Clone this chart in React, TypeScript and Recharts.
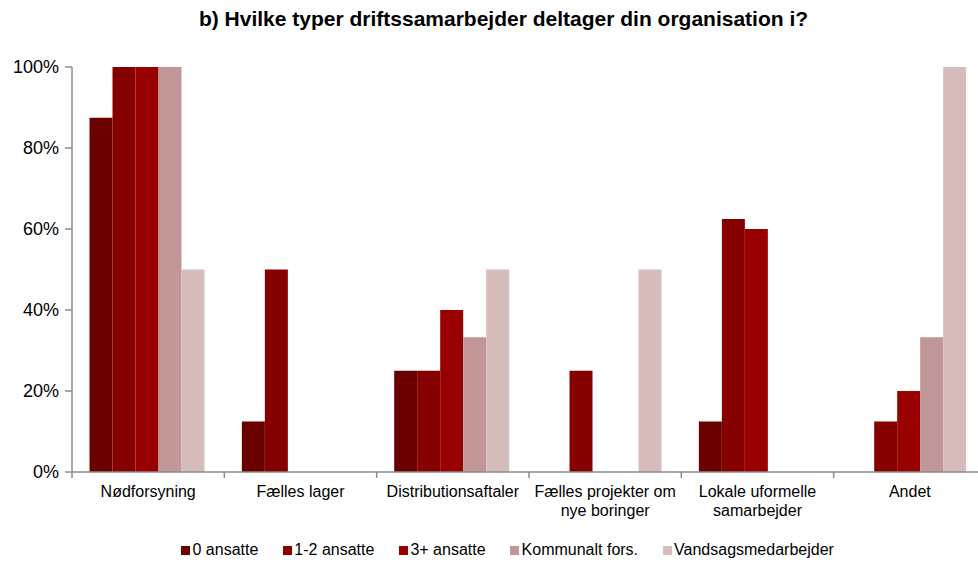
import React from 'react';
import { BarChart, Bar, XAxis, YAxis, Text } from 'recharts';

const categories = [
  'Nødforsyning',
  'Fælles lager',
  'Distributionsaftaler',
  'Fælles projekter om nye boringer',
  'Lokale uformelle samarbejder',
  'Andet',
];
const ansatte0 = [87.5, 12.5, 25, 0, 12.5, 0];
const ansatte12 = [100, 50, 25, 25, 62.5, 12.5];
const ansatte3 = [100, 0, 40, 0, 60, 20];
const kommunalt = [100, 0, 33.3, 0, 0, 33.3];
const vandsags = [50, 0, 50, 50, 0, 100];
const yTicks = [0, 20, 40, 60, 80, 100];

const series = [
  { key: 'a0', name: '0 ansatte', values: ansatte0, color: '#6b0000' },
  { key: 'a12', name: '1-2 ansatte', values: ansatte12, color: '#860000' },
  { key: 'a3', name: '3+ ansatte', values: ansatte3, color: '#990000' },
  { key: 'kom', name: 'Kommunalt fors.', values: kommunalt, color: '#c09696' },
  { key: 'vand', name: 'Vandsagsmedarbejder', values: vandsags, color: '#d7bcbc' },
];

const data = categories.map((c, i) => {
  const row: Record<string, string | number> = { name: c };
  series.forEach(s => { row[s.key] = s.values[i]; });
  return row;
});

const W = 978;
const H = 564;
const CHART_W = 986; // plot runs slightly past the right edge in the original
const LEFT = 72;
const band = (CHART_W - LEFT) / categories.length;
const axisColor = '#8c8c8c';
const font = '"Liberation Sans", Arial, sans-serif';

function CategoryTick(props: any) {
  const { x, y, payload, index } = props;
  const isLast = index === categories.length - 1;
  return (
    <g>
      <line x1={x - band / 2} x2={x - band / 2} y1={y} y2={y + 6} stroke={axisColor} strokeWidth={1.5} />
      {isLast && (
        <line x1={x + band / 2} x2={x + band / 2} y1={y} y2={y + 6} stroke={axisColor} strokeWidth={1.5} />
      )}
      <Text
        x={x}
        y={y + 14}
        width={145}
        textAnchor="middle"
        verticalAnchor="start"
        lineHeight={19}
        fontSize={16}
        fill="#000"
        fontFamily={font}
      >
        {payload.value}
      </Text>
    </g>
  );
}

export default function App() {
  return (
    <div
      style={{
        position: 'absolute',
        left: 0,
        top: 0,
        width: W,
        height: H,
        overflow: 'hidden',
        background: '#fff',
        fontFamily: font,
      }}
    >
      <div
        style={{
          position: 'absolute',
          top: 7,
          left: 0,
          width: W,
          paddingLeft: 29,
          boxSizing: 'border-box',
          textAlign: 'center',
          fontWeight: 'bold',
          fontSize: 21,
          color: '#000',
        }}
      >
        b) Hvilke typer driftssamarbejder deltager din organisation i?
      </div>
      <BarChart
        width={CHART_W}
        height={H}
        data={data}
        margin={{ top: 67, right: 0, left: 0, bottom: 0 }}
        barCategoryGap="11.5%"
        barGap={0}
      >
        <XAxis
          dataKey="name"
          interval={0}
          height={92}
          tickLine={false}
          tickSize={0}
          tickMargin={0}
          axisLine={{ stroke: axisColor, strokeWidth: 1.5 }}
          tick={<CategoryTick />}
        />
        <YAxis
          width={LEFT}
          domain={[0, 100]}
          ticks={yTicks}
          interval={0}
          tickFormatter={(v: number) => `${v}%`}
          tickSize={7}
          tickMargin={6}
          tickLine={{ stroke: axisColor, strokeWidth: 1.5 }}
          axisLine={{ stroke: axisColor, strokeWidth: 1.5 }}
          tick={{ fill: '#000', fontSize: 18, fontFamily: font }}
        />
        {series.map(s => (
          <Bar key={s.key} dataKey={s.key} name={s.name} fill={s.color} isAnimationActive={false} />
        ))}
      </BarChart>
      <div
        style={{
          position: 'absolute',
          top: 541,
          left: 181,
          display: 'flex',
          alignItems: 'center',
          fontSize: 16,
          color: '#000',
          whiteSpace: 'nowrap',
        }}
      >
        {series.map(s => (
          <div key={s.key} style={{ display: 'flex', alignItems: 'center', marginRight: 24.5 }}>
            <span style={{ display: 'inline-block', width: 9, height: 9, background: s.color, marginRight: 2.5 }} />
            <span>{s.name}</span>
          </div>
        ))}
      </div>
    </div>
  );
}
